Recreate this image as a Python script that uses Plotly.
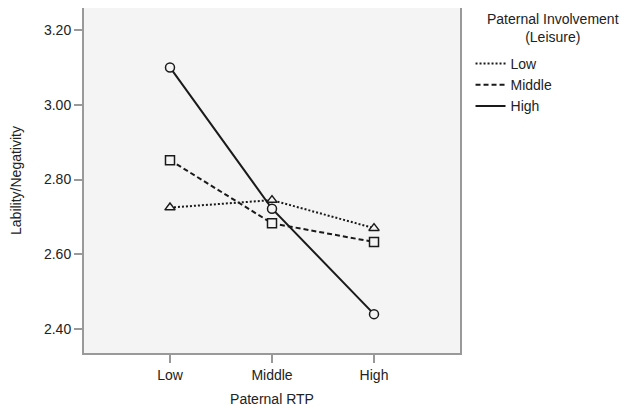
import plotly.graph_objects as go

categories = ["Low", "Middle", "High"]
series_names = ["Low", "Middle", "High"]
low_vals = [2.725, 2.745, 2.670]
middle_vals = [2.852, 2.683, 2.633]
high_vals = [3.100, 2.722, 2.440]
y_ticks = [2.40, 2.60, 2.80, 3.00, 3.20]

series = [
    (series_names[0], low_vals, "2px,2px", "triangle-up"),
    (series_names[1], middle_vals, "5px,3px", "square"),
    (series_names[2], high_vals, "solid", "circle"),
]

INK = "#1a1a1a"
BG = "#f4f4f4"
fig = go.Figure()
xs = list(range(len(categories)))
for name, vals, dash, sym in series:
    fig.add_trace(go.Scatter(
        x=xs, y=vals, mode="lines+markers", showlegend=False,
        line=dict(color=INK, width=2, dash=dash),
        marker=dict(symbol=sym, size=9, color=BG, line=dict(width=1.5, color=INK)),
    ))
for name, vals, dash, sym in series:
    fig.add_trace(go.Scatter(
        x=[None], y=[None], mode="lines", name=name,
        line=dict(color=INK, width=2, dash=dash),
    ))

font = "Liberation Sans, Arial, sans-serif"
# page body adds an 8px offset; figure is sized to compensate
fig.update_layout(
    width=619, height=402,
    margin=dict(l=76, r=167, t=0, b=57),
    paper_bgcolor="white",
    plot_bgcolor=BG,
    font=dict(family=font, size=14, color="#222"),
    xaxis=dict(
        range=[-0.843, 2.843], tickmode="array", tickvals=xs, ticktext=categories,
        showgrid=False, zeroline=False, showline=True, mirror=True,
        linecolor="#999", linewidth=2, ticks="outside", ticklen=8, tickcolor="#999",
        tickwidth=1.5, automargin=False,
        title=dict(text="Paternal RTP", standoff=12, font=dict(size=14)),
        tickfont=dict(size=14),
    ),
    yaxis=dict(
        range=[2.336, 3.259], tickmode="array", tickvals=y_ticks,
        ticktext=[f"{v:.2f}" for v in y_ticks],
        showgrid=False, zeroline=False, showline=True, mirror=True,
        linecolor="#999", linewidth=2, ticks="outside", ticklen=8, tickcolor="#999",
        tickwidth=1.5, automargin=False,
        title=dict(text="Lability/Negativity", standoff=32, font=dict(size=14)),
        tickfont=dict(size=14),
    ),
    legend=dict(
        x=1.028, y=0.884, xanchor="left", yanchor="top",
        itemwidth=30, font=dict(size=14), bgcolor="rgba(0,0,0,0)",
        tracegroupgap=0,
    ),
    annotations=[dict(
        text="Paternal Involvement<br>(Leisure)", xref="paper", yref="paper",
        x=1.248, y=0.997, xanchor="center", yanchor="top", showarrow=False,
        font=dict(size=14), align="center",
    )],
)

fig.write_html("out.html")
